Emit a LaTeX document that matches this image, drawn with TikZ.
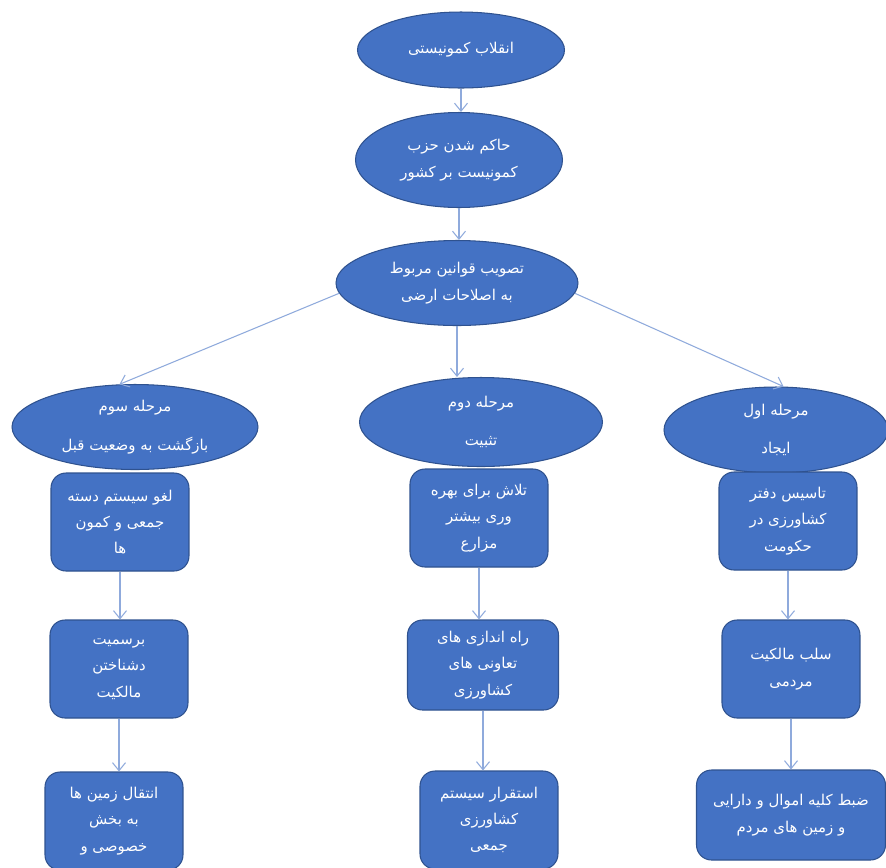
\documentclass[tikz,border=0pt]{standalone}
\usepackage{fontspec}
\newfontfamily\arabicfont[Script=Arabic]{DejaVu Sans}
\TeXXeTstate=1
\usetikzlibrary{shapes.geometric,arrows.meta}
\definecolor{boxfill}{HTML}{4472C4}
\definecolor{boxline}{HTML}{2F528F}
\definecolor{arrowblue}{HTML}{8FAADC}
\newcommand{\fa}[1]{{\arabicfont\beginR #1\endR}}
\tikzset{
  oval/.style={ellipse, draw=boxline, fill=boxfill, text=white, inner sep=0pt,
    align=center, line width=0.6pt, font=\fontsize{8.5}{15}\selectfont},
  card/.style={rectangle, rounded corners=0.3cm, draw=boxline, fill=boxfill,
    text=white, inner sep=0pt, align=center, line width=0.6pt,
    minimum width=2.76cm, minimum height=1.96cm, font=\fontsize{8.5}{15}\selectfont},
  link/.style={draw=arrowblue, line width=0.6pt,
    -{Straight Barb[length=1.6mm,width=2.6mm]}}
}

\begin{document}
\begin{tikzpicture}[x=0.02cm,y=-0.02cm]
\clip (0,0) rectangle (886,867);
\fill[white] (0,0) rectangle (886,867);

% top chain
\node[oval, minimum width=4.14cm, minimum height=1.52cm] (revol) at (461,50) {\fa{انقلاب کمونیستی}};
\node[oval, minimum width=4.14cm, minimum height=1.90cm] (party) at (459,160) {\fa{حاکم شدن حزب}\\\fa{کمونیست بر کشور}};
\node[oval, minimum width=4.84cm, minimum height=1.70cm] (laws) at (457,283) {\fa{تصویب قوانین مربوط}\\\fa{به اصلاحات ارضی}};

% stages
\node[oval, minimum width=4.92cm, minimum height=1.70cm] (third) at (135,427) {\fa{مرحله سوم}\\[7pt]\fa{بازگشت به وضعیت قبل}};
\node[oval, minimum width=4.86cm, minimum height=1.78cm] (second) at (481,422) {\fa{مرحله دوم}\\[7pt]\fa{تثبیت}};
\node[oval, minimum width=4.48cm, minimum height=1.72cm] (first) at (776,430) {\fa{مرحله اول}\\[7pt]\fa{ایجاد}};

% left column
\node[card] (thirdA) at (120,522) {\fa{لغو سیستم دسته}\\\fa{جمعی و کمون}\\\fa{ها}};
\node[card] (thirdB) at (119,669) {\fa{برسمیت}\\\fa{دشناختن}\\\fa{مالکیت}};
\node[card] (thirdC) at (114,821) {\fa{انتقال زمین ها}\\\fa{به بخش}\\\fa{خصوصی و}};

% middle column
\node[card] (secondA) at (479,518) {\fa{تلاش برای بهره}\\\fa{وری بیشتر}\\\fa{مزارع}};
\node[card, minimum width=3.02cm, minimum height=1.80cm] (secondB) at (483,665) {\fa{راه اندازی های}\\\fa{تعاونی های}\\\fa{کشاورزی}};
\node[card] (secondC) at (489,820) {\fa{استقرار سیستم}\\\fa{کشاورزی}\\\fa{جمعی}};

% right column
\node[card] (firstA) at (788,521) {\fa{تاسیس دفتر}\\\fa{کشاورزی در}\\\fa{حکومت}};
\node[card] (firstB) at (791,669) {\fa{سلب مالکیت}\\\fa{مردمی}};
\node[card, minimum width=3.78cm, minimum height=1.80cm] (firstC) at (791,815) {\fa{ضبط کلیه اموال و دارایی}\\\fa{و زمین های مردم}};

% connectors
\draw[link] (revol.south) -- (revol.south |- party.north);
\draw[link] (party.south) -- (party.south |- laws.north);
\draw[link] (laws.185) -- (third.110);
\draw[link] (laws.south) -- (laws.south |- second.north);
\draw[link] (laws.355) -- (first.80);
\foreach \a/\b in {thirdA/thirdB, thirdB/thirdC, secondA/secondB, secondB/secondC, firstA/firstB, firstB/firstC}
  \draw[link] (\a.south) -- (\a.south |- \b.north);
\end{tikzpicture}
\end{document}
